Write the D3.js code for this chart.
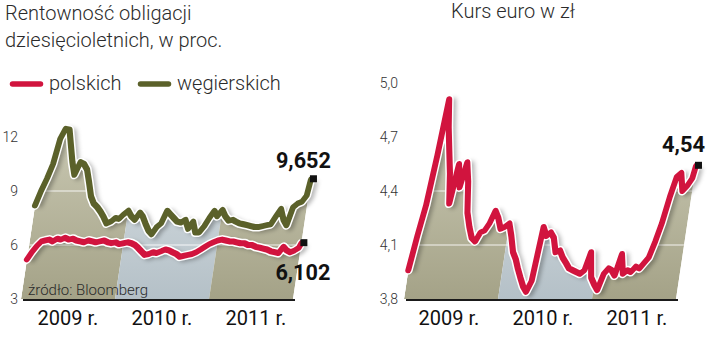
<!DOCTYPE html>
<html><head><meta charset="utf-8">
<script src="https://cdn.jsdelivr.net/npm/d3@7"></script>
<style>body{margin:0;background:#fff}svg{display:block}text{font-family:Roboto,"Noto Sans",sans-serif}</style>
</head><body>
<svg id="c" width="720" height="352"></svg>
<script>
// ---------- DATA ----------
const startDate = new Date(2009, 0, 1);
const endDate = new Date(2011, 10, 23);
// sample dates: 1st and 16th of each month Jan 2009 – Nov 2011, then last quote
const sampleDates = [];
for (let m = 0; m < 35; m++) { sampleDates.push(new Date(2009, m, 1)); sampleDates.push(new Date(2009, m, 16)); }
sampleDates.push(endDate);

// Rentowność obligacji 10-letnich – węgierskich (%)
const hungary = [8.2, 9.0, 9.7, 10.5, 11.9, 12.45, 12.4, 11.5, 10.6, 9.9,
  10.6, 10.5, 10.2, 9.5, 8.7, 8.3, 8.1, 7.85, 7.55, 7.2,
  7.3, 7.5, 7.45, 7.7, 7.9, 7.6, 7.4, 7.8, 7.6, 7.2,
  6.8, 6.6, 7.0, 7.2, 7.9, 7.7, 7.5, 7.3, 7.25, 7.4,
  6.9, 7.3, 6.7, 6.7, 7.05, 7.5, 7.9, 7.6, 7.95, 7.6,
  7.35, 7.4, 7.3, 7.2, 7.15, 7.1, 7.05, 7.0, 7.0, 7.05,
  7.1, 7.15, 7.6, 8.0, 7.4, 7.1, 8.1, 8.3, 8.4, 8.75, 9.652];
// – polskich (%)
const poland = [5.2, 5.6, 5.95, 6.2, 6.25, 6.3, 6.2, 6.35, 6.3, 6.4,
  6.3, 6.35, 6.25, 6.2, 6.15, 6.25, 6.2, 6.15, 6.2, 6.25,
  6.15, 6.1, 6.15, 6.05, 6.1, 6.15, 6.1, 6.0, 5.85, 5.65,
  5.45, 5.5, 5.6, 5.55, 5.65, 5.75, 5.7, 5.6, 5.5, 5.35,
  5.4, 5.45, 5.5, 5.6, 5.75, 5.9, 6.05, 6.15, 6.25, 6.3,
  6.25, 6.2, 6.2, 6.15, 6.1, 6.1, 6.0, 6.0, 5.9, 5.85,
  5.8, 5.75, 5.65, 5.6, 5.55, 5.9, 5.7, 5.6, 5.7, 5.85, 6.102];
// Kurs euro w zł
const eurPln = [3.96, 4.15, 4.32, 4.6, 4.91, 4.75, 4.62, 4.5, 4.33, 4.55,
  4.42, 4.56, 4.45, 4.28, 4.2, 4.14, 4.12, 4.17, 4.18, 4.22,
  4.29, 4.25, 4.19, 4.2, 4.22, 4.15, 4.06, 4.02, 3.97, 3.92,
  3.87, 3.84, 3.9, 4.2, 4.15, 4.17, 4.14, 4.06, 4.07, 4.03,
  4.0, 3.97, 3.96, 3.95, 3.94, 3.96, 4.06, 3.92, 3.88, 3.85,
  3.94, 3.97, 3.96, 3.93, 4.05, 3.94, 3.96, 3.95, 3.98, 3.97,
  4.0, 4.03, 4.12, 4.22, 4.37, 4.48, 4.5, 4.4, 4.43, 4.47, 4.54];

const years = [2009, 2010, 2011];
const yearLabels = ["2009 r.", "2010 r.", "2011 r."];
const leftTicks = [3, 6, 9, 12];
const rightTicks = [3.8, 4.1, 4.4, 4.7, 5.0];
const leftTitle = ["Rentowność obligacji", "dziesięcioletnich, w proc."];
const rightTitle = "Kurs euro w zł";
const legendLabels = ["polskich", "węgierskich"];
const endLabels = { hungary: "9,652", poland: "6,102", eur: "4,54" };
const source = "źródło: Bloomberg";

// ---------- STYLE ----------
const RED = "#d1143e", GREEN = "#5b612a";
const K = 0.15; // perspective slant
const pl = d3.formatLocale({decimal: ",", thousands: " ", grouping: [3], currency: ["", " zł"]});

const svg = d3.select("#c");
const defs = svg.append("defs");
function grad(id, top, bottom) {
  const g = defs.append("linearGradient").attr("id", id).attr("gradientUnits", "userSpaceOnUse")
    .attr("x1", 0).attr("x2", 0).attr("y1", 110).attr("y2", 300);
  g.append("stop").attr("offset", 0).attr("stop-color", top);
  g.append("stop").attr("offset", 1).attr("stop-color", bottom);
}
grad("gOlive", "#cdccb7", "#a4a287");
grad("gBlue", "#dfe5e8", "#b4c0c7");
defs.append("filter").attr("id", "blur").attr("x", "-20%").attr("y", "-20%").attr("width", "140%").attr("height", "140%")
  .append("feGaussianBlur").attr("stdDeviation", 2);

function panel(o) {
  const x = d3.scaleTime().domain([startDate, endDate]).range(o.xRange);
  const y = d3.scaleLinear().domain([o.ticks[0], o.ticks[o.ticks.length - 1]]).range([299, o.yTop]);
  const base = y.range()[0];
  const ang = -Math.atan(K) * 180 / Math.PI;
  const g = svg.append("g").attr("transform", `translate(0,${base}) skewX(${ang}) translate(0,${-base})`);
  const toData = vals => vals.map((v, i) => ({date: sampleDates[i], v}));
  const area = d3.area().x(d => x(d.date)).y0(base).y1(d => y(d.v));
  const line = d3.line().x(d => x(d.date)).y(d => y(d.v));
  const aData = toData(o.areaSeries);
  defs.append("clipPath").attr("id", o.id).append("path").attr("d", area(aData));
  const bands = g.append("g").attr("clip-path", `url(#${o.id})`);
  years.forEach((yr, i) => {
    const a = x(new Date(yr, 0, 1)), b = x(new Date(yr + 1, 0, 1));
    bands.append("rect").attr("x", a).attr("width", b - a).attr("y", 60).attr("height", base - 60)
      .attr("fill", i === 1 ? "url(#gBlue)" : "url(#gOlive)");
  });
  o.ticks.slice(1).forEach(t => {
    bands.append("line").attr("x1", x.range()[0] - 30).attr("x2", x.range()[1] + 10)
      .attr("y1", y(t)).attr("y2", y(t)).attr("stroke", "#fff").attr("stroke-opacity", 0.85).attr("stroke-width", 1.2);
  });
  o.series.forEach(s => {
    const d = toData(s.values);
    g.append("path").attr("d", line(d)).attr("fill", "none").attr("stroke", "#000").attr("stroke-opacity", 0.28)
      .attr("stroke-width", 7).attr("stroke-linejoin", "round").attr("transform", "translate(4,2)").attr("filter", "url(#blur)");
    g.append("path").attr("d", line(d)).attr("fill", "none").attr("stroke", "#fff")
      .attr("stroke-width", 9).attr("stroke-linejoin", "round").attr("stroke-linecap", "round");
    g.append("path").attr("d", line(d)).attr("fill", "none").attr("stroke", s.color)
      .attr("stroke-width", 6).attr("stroke-linejoin", "round").attr("stroke-linecap", "round");
    const last = d[d.length - 1];
    const ey = y(last.v), ex = x(last.date) + K * (base - ey);
    svg.append("rect").attr("x", ex - 1).attr("y", ey - 4).attr("width", 7).attr("height", 7).attr("fill", "#111");
    svg.append("text").attr("x", ex + s.lab[0]).attr("y", ey + s.lab[1]).attr("text-anchor", "end")
      .attr("font-family", "'DejaVu Sans Condensed','DejaVu Sans',sans-serif").attr("font-weight", "bold")
      .attr("font-size", 22).attr("fill", "#111")
      .attr("textLength", s.lab[2]).attr("lengthAdjust", "spacingAndGlyphs").text(s.label);
  });
  // baseline
  svg.append("line").attr("x1", x.range()[0] + 2).attr("x2", x.range()[1] + 2).attr("y1", base + 1).attr("y2", base + 1)
    .attr("stroke", "#1a1a1a").attr("stroke-width", 2);
  // y ticks
  const ax = svg.append("g").attr("transform", `translate(${o.tickX},0)`)
    .call(d3.axisLeft(y).tickValues(o.ticks).tickSize(0).tickPadding(0).tickFormat(o.fmt));
  ax.select(".domain").remove();
  ax.selectAll("text").attr("font-family", "Roboto").attr("font-weight", 300).attr("font-size", 14).attr("fill", "#333");
  // year labels
  years.forEach((yr, i) => {
    const a = x(new Date(yr, 0, 1)), b = x(new Date(yr, 11, 31));
    svg.append("text").attr("x", (a + b) / 2 + o.yearShift).attr("y", 325).attr("text-anchor", "middle")
      .attr("font-size", 20).attr("fill", "#111").text(yearLabels[i]);
  });
}

panel({
  id: "clipL", xRange: [21, 293], yTop: 137, ticks: leftTicks, tickX: 18, yearShift: 0,
  fmt: d3.format("d"), areaSeries: hungary,
  series: [
    {values: hungary, color: GREEN, label: endLabels.hungary, lab: [20, -11, 55]},
    {values: poland, color: RED, label: endLabels.poland, lab: [29, 37, 55]}
  ]
});
panel({
  id: "clipR", xRange: [404, 676], yTop: 83, ticks: rightTicks, tickX: 398, yearShift: -2,
  fmt: pl.format(".1f"), areaSeries: eurPln,
  series: [{values: eurPln, color: RED, label: endLabels.eur, lab: [9, -14, 43]}]
});

// titles & legend
svg.append("text").attr("x", 5).attr("y", 20).attr("font-size", 20).attr("font-weight", 300).attr("fill", "#2b2b2b").text(leftTitle[0]);
svg.append("text").attr("x", 5).attr("y", 47).attr("font-size", 20).attr("font-weight", 300).attr("fill", "#2b2b2b").text(leftTitle[1]);
svg.append("text").attr("x", 513).attr("y", 18).attr("text-anchor", "middle").attr("font-size", 20).attr("font-weight", 300).attr("fill", "#2b2b2b").text(rightTitle);
[[RED, 12.5, 49], [GREEN, 140.5, 177]].forEach((l, i) => {
  svg.append("line").attr("x1", l[1]).attr("x2", l[1] + 28).attr("y1", 84).attr("y2", 84)
    .attr("stroke", l[0]).attr("stroke-width", 5.5).attr("stroke-linecap", "round");
  svg.append("text").attr("x", l[2]).attr("y", 90).attr("font-size", 20).attr("font-weight", 300).attr("fill", "#2b2b2b").text(legendLabels[i]);
});
svg.append("text").attr("x", 28).attr("y", 295).attr("font-size", 15).attr("font-weight", 300).attr("fill", "#2b2b2b").text(source);
</script>
</body></html>
